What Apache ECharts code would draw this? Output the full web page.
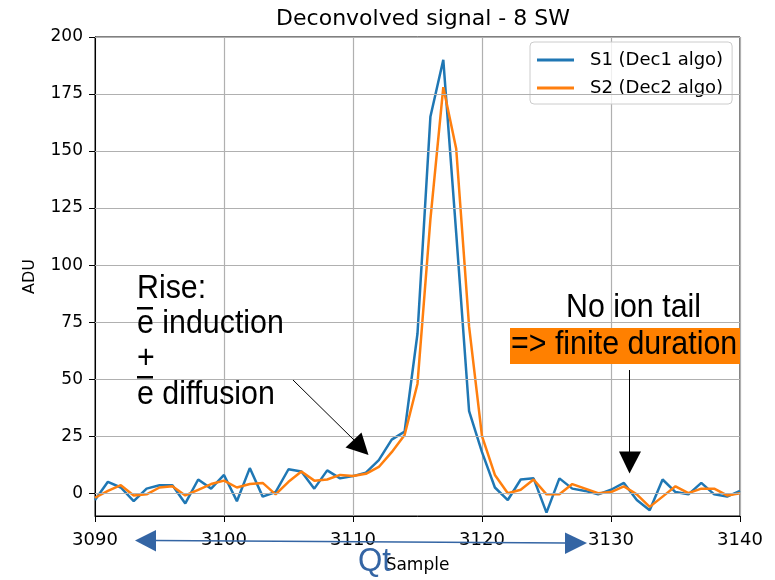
<!DOCTYPE html>
<html>
<head>
<meta charset="utf-8">
<script src="https://cdn.jsdelivr.net/npm/echarts@6/dist/echarts.min.js"></script>
<style>html,body{margin:0;padding:0;background:#fff}#c{width:775px;height:580px}</style>
</head>
<body>
<div id="c"></div>
<script>
const samples = [3090,3091,3092,3093,3094,3095,3096,3097,3098,3099,3100,3101,3102,3103,3104,3105,3106,3107,3108,3109,3110,3111,3112,3113,3114,3115,3116,3117,3118,3119,3120,3121,3122,3123,3124,3125,3126,3127,3128,3129,3130,3131,3132,3133,3134,3135,3136,3137,3138,3139,3140];
const s1 = [-3,5,2.5,-3.5,2,3.5,3.5,-4.5,6,2,8,-3.5,11,-1.5,0.5,10.5,9.5,2,10,6.5,7.5,9,14.5,23.5,27,70,165,190,114,36,18,2.5,-3,6,6.5,-8.5,6.5,2,1,-0.5,1.5,4.5,-3,-7.5,6,0.5,-0.5,4.5,-0.5,-1.5,1];
const s2 = [-2,1,3.5,-1,-0.5,2.5,3,-1,1.5,4,5.5,2.5,4,4.5,-0.5,5,9.5,5.5,6,8,7.5,8.5,11.5,18,25.5,48,120,178,151,73,25,8,0,1.5,6,-0.5,-0.5,4,2,0,0.5,3,-0.5,-6,-1.5,3,0,2,2,-1,0];
const seriesNames = ['S1 (Dec1 algo)', 'S2 (Dec2 algo)'];
const yTicks = [0,25,50,75,100,125,150,175,200];
const xTicks = [3090,3100,3110,3120,3130,3140];

const chart = echarts.init(document.getElementById('c'), null, {renderer:'canvas'});
const ann = 'Liberation Sans Narrow, Liberation Sans, Arial, sans-serif';
const SX = 0.92;
function label(x, y, text, size, fill) {
  return {type:'text', x: x, y: y, scaleX: SX, z: 100,
    style:{text: text, font: size + 'px ' + ann, fill: fill || '#000', align: 'left', verticalAlign: 'top'}};
}
const opt = {
  animation: false,
  backgroundColor: '#fff',
  title: {
    text: 'Deconvolved signal - 8 SW',
    left: 418, top: 3, textAlign: 'center',
    textStyle: {fontFamily: 'DejaVu Sans', fontSize: 22, fontWeight: 'normal', color: '#000'}
  },
  grid: {left: 95, right: 35, top: 37, bottom: 64, show: true, borderColor: '#000', borderWidth: 1, backgroundColor: 'transparent'},
  legend: {
    data: seriesNames,
    orient: 'vertical', left: 530, top: 42,
    padding: [9,9,7,7], itemGap: 10,
    icon: 'rect', itemWidth: 37, itemHeight: 3,
    backgroundColor: 'rgba(255,255,255,0.8)', borderColor: '#cccccc', borderWidth: 1, borderRadius: 4,
    textStyle: {fontFamily: 'DejaVu Sans', fontSize: 18, color: '#000', padding: [0,0,0,11]}
  },
  xAxis: {
    type: 'value', min: xTicks[0], max: xTicks[xTicks.length-1], interval: 10,
    name: 'Sample', nameLocation: 'middle', nameGap: 41,
    nameTextStyle: {fontFamily: 'DejaVu Sans', fontSize: 17, color: '#000'},
    axisLine: {onZero: false, lineStyle: {color: '#000', width: 1}},
    axisTick: {show: true, inside: false, length: 6, lineStyle: {color: '#000'}},
    axisLabel: {fontFamily: 'DejaVu Sans', fontSize: 18, color: '#000', margin: 15, formatter: v => String(v)},
    splitLine: {show: true, lineStyle: {color: '#b0b0b0', width: 1.2}}
  },
  yAxis: {
    type: 'value', min: -10, max: 200,
    name: 'ADU', nameLocation: 'middle', nameGap: 57, nameRotate: 90,
    nameTextStyle: {fontFamily: 'DejaVu Sans', fontSize: 16, color: '#000'},
    axisLine: {onZero: false, lineStyle: {color: '#000', width: 1}},
    axisTick: {show: true, length: 6, lineStyle: {color: '#000'}, customValues: yTicks},
    axisLabel: {fontFamily: 'DejaVu Sans', fontSize: 17, color: '#000', margin: 12, customValues: yTicks},
    splitLine: {show: false}
  },
  series: [
    {
      name: 'grid', type: 'line', data: [], z: 1, silent: true,
      markLine: {
        silent: true, symbol: ['none','none'], label: {show: false},
        lineStyle: {color: '#b0b0b0', width: 1.2, type: 'solid'},
        data: yTicks.map(v => ({yAxis: v}))
      }
    },
    {
      name: seriesNames[0], type: 'line', z: 3,
      data: samples.map((x,i) => [x, s1[i]]),
      showSymbol: false, symbol: 'none',
      lineStyle: {color: '#1f77b4', width: 2.5}, itemStyle: {color: '#1f77b4'}
    },
    {
      name: seriesNames[1], type: 'line', z: 4,
      data: samples.map((x,i) => [x, s2[i]]),
      showSymbol: false, symbol: 'none',
      lineStyle: {color: '#ff7f0e', width: 2.5}, itemStyle: {color: '#ff7f0e'}
    }
  ],
  graphic: [
    label(137, 272, 'Rise:', 33),
    label(137, 307, 'e induction', 33),
    {type:'rect', z: 100, shape:{x:137, y:307, width:16, height:2.5}, style:{fill:'#000'}},
    label(137, 342, '+', 33),
    label(137, 378, 'e diffusion', 33),
    {type:'rect', z: 100, shape:{x:137, y:376, width:16, height:2.5}, style:{fill:'#000'}},
    {type:'line', z: 100, shape:{x1:293, y1:380, x2:355, y2:441}, style:{stroke:'#000', lineWidth:1}},
    {type:'polygon', z: 100, shape:{points:[[345.5,447.5],[361.5,432.5],[368.5,455]]}, style:{fill:'#000'}},
    label(566, 291, 'No ion tail', 33),
    {type:'rect', z: 99, shape:{x:510, y:328, width:230, height:36}, style:{fill:'#ff8000'}},
    label(511, 328, '=> finite duration', 33),
    {type:'line', z: 100, shape:{x1:629.5, y1:370, x2:629.5, y2:453}, style:{stroke:'#000', lineWidth:1}},
    {type:'polygon', z: 100, shape:{points:[[619,451.5],[641,451.5],[629.5,473.5]]}, style:{fill:'#000'}},
    {type:'line', z: 100, shape:{x1:154, y1:540.5, x2:566, y2:543}, style:{stroke:'#3465a4', lineWidth:1.5}},
    {type:'polygon', z: 100, shape:{points:[[135,540.5],[156,530],[156,551.5]]}, style:{fill:'#3465a4'}},
    {type:'polygon', z: 100, shape:{points:[[587,543],[565,532.5],[565,554]]}, style:{fill:'#3465a4'}},
    label(358, 545, 'Qt', 34, '#3465a4')
  ]
};
chart.setOption(opt);
</script>
</body>
</html>
